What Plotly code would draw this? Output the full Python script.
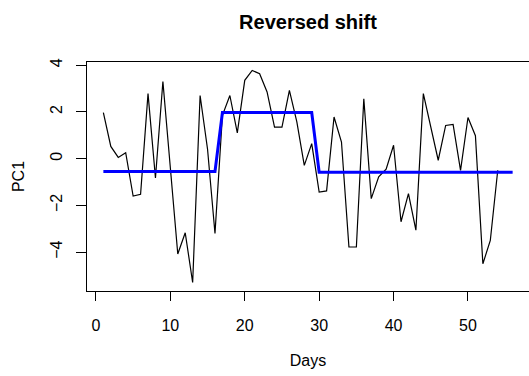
import plotly.graph_objects as go

# Daily PC1 scores
days = list(range(1, 55))
pc1 = [1.97, 0.52, 0.05, 0.25, -1.6, -1.53, 2.78, -0.83, 3.3, -0.5,
       -4.08, -3.17, -5.3, 2.7, 0.4, -3.2, 1.85, 2.7, 1.1, 3.35,
       3.77, 3.63, 2.85, 1.35, 1.35, 2.92, 1.57, -0.29, 0.64, -1.43,
       -1.38, 1.78, 0.71, -3.78, -3.78, 2.56, -1.71, -0.78, -0.45, 0.57,
       -2.7, -1.5, -3.06, 2.78, 1.3, -0.07, 1.42, 1.46, -0.5, 1.76,
       0.98, -4.5, -3.5, -0.5]

# Fitted step (segment means)
fit_days = list(range(1, 57))
fit_vals = [-0.55] * 16 + [1.97] * 13 + [-0.58] * 27

x_ticks = [0, 10, 20, 30, 40, 50]
y_ticks = [-4, -2, 0, 2, 4]


def padded(lo, hi, frac=0.04):
    d = (hi - lo) * frac
    return [lo - d, hi + d]


xr = padded(min(days + fit_days), max(days + fit_days))
yr = padded(min(pc1 + fit_vals), max(pc1 + fit_vals))

fig = go.Figure()
fig.add_trace(go.Scatter(x=days, y=pc1, mode="lines",
                         line=dict(color="black", width=1.2),
                         showlegend=False, hoverinfo="skip"))
fig.add_trace(go.Scatter(x=fit_days, y=fit_vals, mode="lines",
                         line=dict(color="#0000FF", width=3),
                         showlegend=False, hoverinfo="skip"))

font = "Liberation Sans, Arial, sans-serif"
fig.update_layout(
    width=529, height=376,
    margin=dict(l=87, r=0, t=62, b=85),
    paper_bgcolor="white", plot_bgcolor="white",
    font=dict(family=font, size=16, color="black"),
    title=dict(text="<b>Reversed shift</b>", x=0.5, xref="paper",
               xanchor="center", y=1 - 22 / 376, yref="container",
               yanchor="middle", font=dict(family=font, size=20, color="black")),
    xaxis=dict(range=xr, tickvals=x_ticks, ticks="outside", ticklen=9,
               tickwidth=1, tickcolor="black", showgrid=False, zeroline=False,
               showline=True, linecolor="black", linewidth=1, mirror=True,
               ticklabelstandoff=11, tickfont=dict(size=16),
               title=dict(text="Days", font=dict(size=16), standoff=21)),
    yaxis=dict(range=yr, tickvals=y_ticks, ticks="outside", ticklen=10,
               tickwidth=1, tickcolor="black", showgrid=False, zeroline=False,
               showline=True, linecolor="black", linewidth=1, mirror=False,
               tickangle=-90, ticklabelstandoff=8, tickfont=dict(size=16),
               title=dict(text="PC1", font=dict(size=16), standoff=18)),
)

fig.write_html("out.html")
